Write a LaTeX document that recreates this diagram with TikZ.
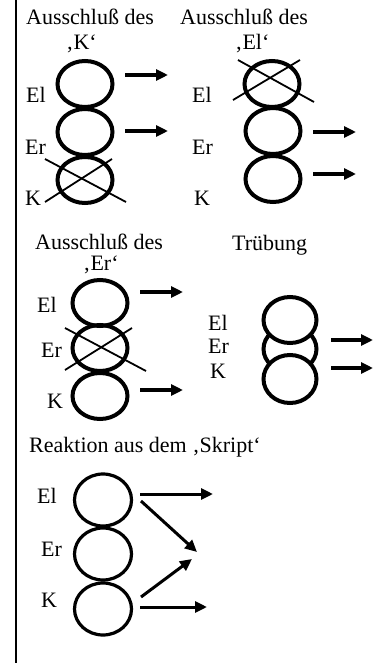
\documentclass[tikz,border=0pt]{standalone}
\usepackage{fontspec}
\setmainfont{Liberation Serif}
\usetikzlibrary{shapes.geometric,arrows.meta}
\begin{document}
\begin{tikzpicture}[x=1pt,y=-1pt,
  lbl/.style={anchor=base west,inner sep=0pt,font=\fontsize{22}{26}\selectfont},
  ringA/.style={ellipse,draw,line width=4pt,minimum width=55pt,minimum height=46pt,inner sep=0pt},
  ringB/.style={ellipse,draw,line width=3.2pt,minimum width=57pt,minimum height=52pt,inner sep=0pt},
  crossline/.style={line width=1.8pt},
  arr/.style={line width=3.4pt,-{Triangle[length=12pt,width=11pt]}},
  frame/.style={line width=2.4pt}]
\useasboundingbox (0,0) rectangle (373,663);
% left frame line
\coordinate (ftop) at (16,0);
\coordinate (fbot) at (16,663);
\draw[frame] (ftop) -- (fbot);

% ---------- Panel 1 ----------
\node[lbl] (t1) at (26,25) {Ausschluß des};
\node[lbl] (t1b) at (66,50) {‚K‘};
\node[lbl] (l1a) at (26,103) {El};
\node[lbl] (l1b) at (25,154) {Er};
\node[lbl] (l1c) at (25,205) {K};
\node[ringA] (c1a) at (85,84) {};
\node[ringA] (c1b) at (85,132) {};
\node[ringA] (c1c) at (85,180) {};
\coordinate (x1a) at (45,159); \coordinate (x1b) at (126,202);
\coordinate (x1c) at (112,159); \coordinate (x1d) at (45,202);
\draw[crossline] (x1a) -- (x1b);
\draw[crossline] (x1c) -- (x1d);
\coordinate (a1s) at (125,75); \coordinate (a1e) at (168,75);
\coordinate (a2s) at (125,131); \coordinate (a2e) at (168,131);
\draw[arr] (a1s) -- (a1e);
\draw[arr] (a2s) -- (a2e);

% ---------- Panel 2 ----------
\node[lbl] (t2) at (180,25) {Ausschluß des};
\node[lbl] (t2b) at (235,50) {‚El‘};
\node[lbl] (l2a) at (192,103) {El};
\node[lbl] (l2b) at (192,155) {Er};
\node[lbl] (l2c) at (194,205) {K};
\node[ringA] (c2a) at (272,84) {};
\node[ringA] (c2b) at (273,131) {};
\node[ringA] (c2c) at (273,179) {};
\coordinate (x2a) at (238,60); \coordinate (x2b) at (314,102);
\coordinate (x2c) at (300,60); \coordinate (x2d) at (233,100);
\draw[crossline] (x2a) -- (x2b);
\draw[crossline] (x2c) -- (x2d);
\coordinate (a3s) at (313,132); \coordinate (a3e) at (356,132);
\coordinate (a4s) at (313,174); \coordinate (a4e) at (356,174);
\draw[arr] (a3s) -- (a3e);
\draw[arr] (a4s) -- (a4e);

% ---------- Panel 3 ----------
\node[lbl] (t3) at (35,249) {Ausschluß des};
\node[lbl] (t3b) at (83,270) {‚Er‘};
\node[lbl] (l3a) at (37,312) {El};
\node[lbl] (l3b) at (41,357) {Er};
\node[lbl] (l3c) at (47,408) {K};
\node[ringA] (c3a) at (100,303) {};
\node[ringA] (c3b) at (100,348) {};
\node[ringA] (c3c) at (100,396) {};
\coordinate (x3a) at (65,328); \coordinate (x3b) at (146,371);
\coordinate (x3c) at (132,328); \coordinate (x3d) at (65,370);
\draw[crossline] (x3a) -- (x3b);
\draw[crossline] (x3c) -- (x3d);
\coordinate (a5s) at (140,292); \coordinate (a5e) at (183,292);
\coordinate (a6s) at (140,390); \coordinate (a6e) at (183,390);
\draw[arr] (a5s) -- (a5e);
\draw[arr] (a6s) -- (a6e);

% ---------- Panel 4 ----------
\node[lbl] (t4) at (232,250) {Trübung};
\node[lbl] (l4a) at (208,330) {El};
\node[lbl] (l4b) at (208,353) {Er};
\node[lbl] (l4c) at (210,378) {K};
\node[ringA,minimum width=53pt] (c4b) at (290,349) {};
\node[ringA,minimum width=53pt,fill=white] (c4a) at (290,320) {};
\node[ringA,minimum width=53pt,minimum height=48pt,fill=white] (c4c) at (290,379) {};
\coordinate (a7s) at (331,340); \coordinate (a7e) at (373,340);
\coordinate (a8s) at (331,368); \coordinate (a8e) at (373,368);
\draw[arr] (a7s) -- (a7e);
\draw[arr] (a8s) -- (a8e);

% ---------- Panel 5 ----------
\node[lbl] (t5) at (29,452) {Reaktion aus dem ‚Skript‘};
\node[lbl] (l5a) at (37,503) {El};
\node[lbl] (l5b) at (41,556) {Er};
\node[lbl] (l5c) at (41,607) {K};
\node[ringB] (c5a) at (103,500) {};
\node[ringB] (c5b) at (103,554) {};
\node[ringB] (c5c) at (103,609) {};
\coordinate (b1s) at (140,494); \coordinate (b1e) at (213,494);
\coordinate (b2s) at (141,501); \coordinate (b2e) at (197,552);
\coordinate (b3s) at (141,597); \coordinate (b3e) at (192,559);
\coordinate (b4s) at (140,607); \coordinate (b4e) at (207,607);
\draw[arr,line width=3pt] (b1s) -- (b1e);
\draw[arr,line width=3pt] (b2s) -- (b2e);
\draw[arr,line width=3pt] (b3s) -- (b3e);
\draw[arr,line width=3pt] (b4s) -- (b4e);
\end{tikzpicture}
\end{document}
